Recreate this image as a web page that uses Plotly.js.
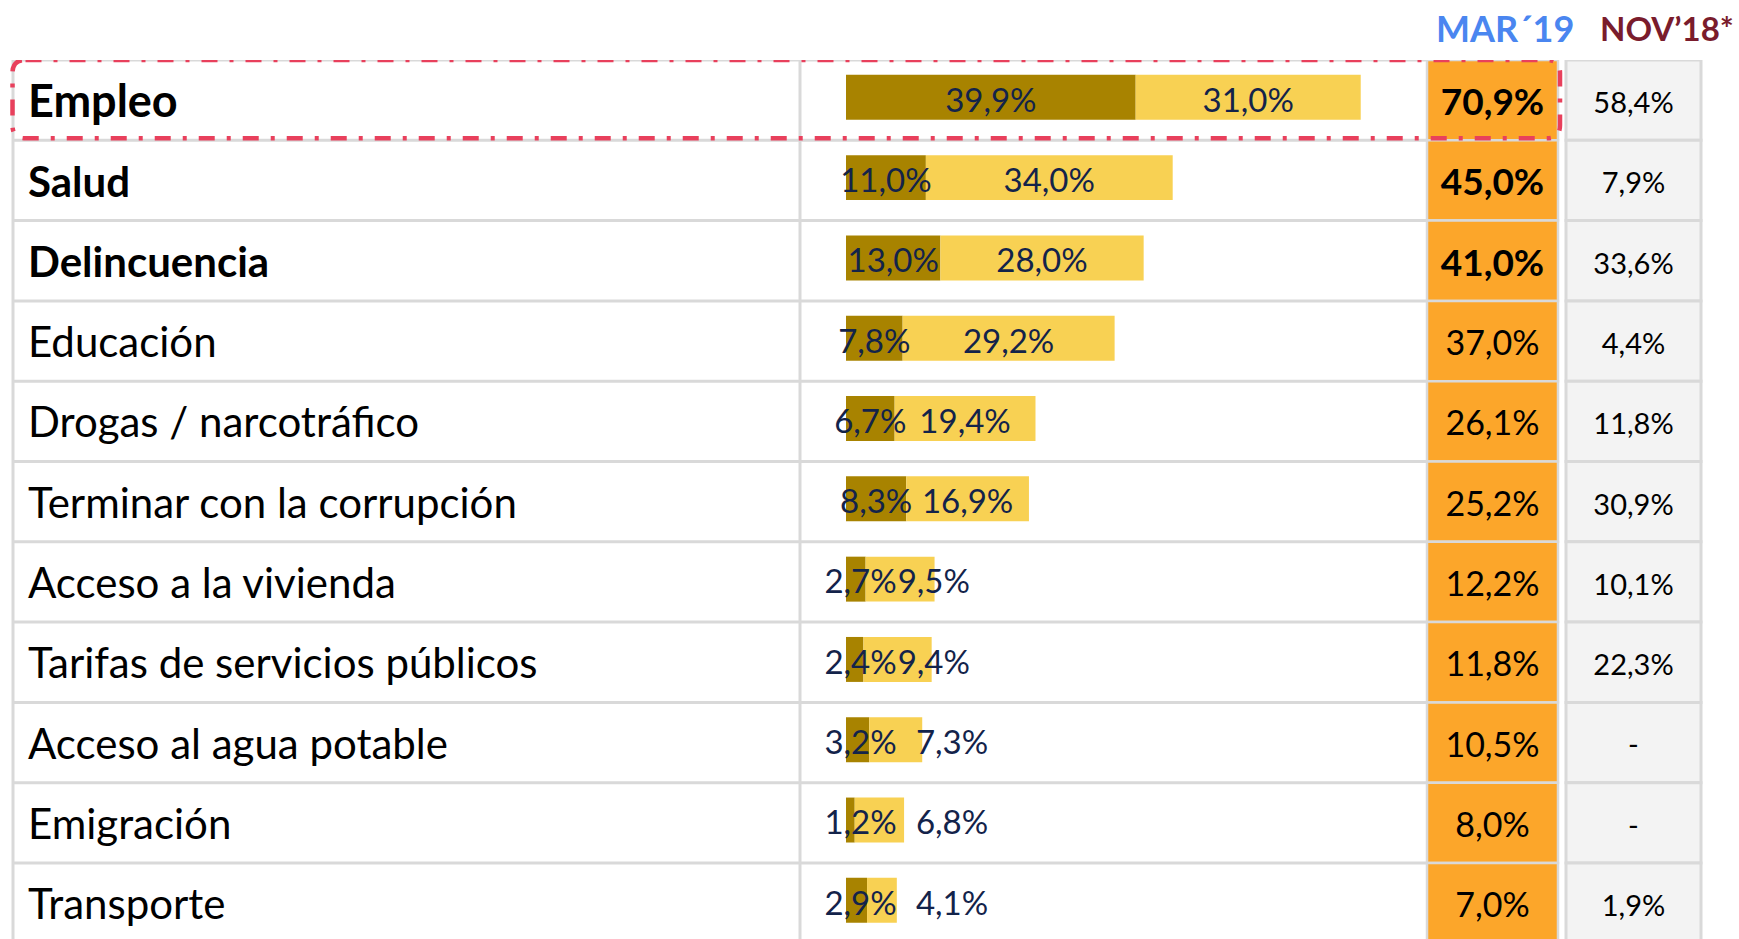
<!DOCTYPE html>
<html>
<head>
<meta charset="utf-8">
<script src="https://cdn.plot.ly/plotly-3.0.1.min.js"></script>
<style>
  html, body { margin: 0; padding: 0; background: #ffffff; }
  #chart { width: 1739px; height: 939px; }
</style>
</head>
<body>
<div id="chart"></div>
<script>
// ---------------- DATA ----------------
const categories = [
  'Empleo', 'Salud', 'Delincuencia', 'Educación', 'Drogas / narcotráfico',
  'Terminar con la corrupción', 'Acceso a la vivienda', 'Tarifas de servicios públicos',
  'Acceso al agua potable', 'Emigración', 'Transporte'
];
const firstMention = [39.9, 11.0, 13.0, 7.8, 6.7, 8.3, 2.7, 2.4, 3.2, 1.2, 2.9];
const otherMentions = [31.0, 34.0, 28.0, 29.2, 19.4, 16.9, 9.5, 9.4, 7.3, 6.8, 4.1];
const nov18 = [58.4, 7.9, 33.6, 4.4, 11.8, 30.9, 10.1, 22.3, null, null, 1.9];
const highlighted = ['Empleo', 'Salud', 'Delincuencia'];
const columnHeaders = ['MAR´19', 'NOV’18*'];

// ---------------- HELPERS ----------------
const W = 1739, H = 939;
const fmt = v => v.toFixed(1).replace('.', ',') + '%';
const idx = categories.map((c, i) => i);
const totals = categories.map((c, i) => firstMention[i] + otherMentions[i]);
const isBold = categories.map(c => highlighted.indexOf(c) >= 0);

// label placement (data units of the bar axis): centre of the segment,
// pushed right when segments are too narrow to hold the label.
const minDarkX = 2.0, labelW = 10.1, extraPad = 2.5;
const darkX = firstMention.map(v => Math.max(v / 2, minDarkX));
const lightX = otherMentions.map((v, i) => {
  const centre = firstMention[i] + v / 2;
  const pushed = darkX[i] + labelW + (v < 9 ? extraPad : 0);
  return Math.max(centre, pushed);
});

// geometry (pixels)
const tableTop = 60, rowH = 80.3;
const yDomTop = 1 - tableTop / H;
const rowsVisible = (H - tableTop) / rowH;
const yRange = [-0.5 + rowsVisible, -0.5];
const textShift = 0.07;   // texts sit slightly below the row centre
const px = x => x / W;

const colLeft = 13, colDiv = 800, colOrangeL = 1427, colOrangeR = 1558, colGrayL = 1566, colGrayR = 1701;
const barStartPx = 846, pxPerUnit = 7.26;
const xRange = [-barStartPx / pxPerUnit, (W - barStartPx) / pxPerUnit];

const FONT = 'Lato, "Open Sans", sans-serif';
const navy = '#13234a';
const gridC = '#d9d9d9';

// ---------------- TRACES ----------------
const barW = 0.56;
const traces = [
  {
    type: 'bar', orientation: 'h', x: firstMention, y: idx,
    marker: { color: '#a88300' }, width: barW, offset: -barW / 2 - 0.035,
    xaxis: 'x', yaxis: 'y', hoverinfo: 'skip'
  },
  {
    type: 'bar', orientation: 'h', x: otherMentions, y: idx, base: firstMention,
    marker: { color: '#f8d153' }, width: barW, offset: -barW / 2 - 0.035,
    xaxis: 'x', yaxis: 'y', hoverinfo: 'skip'
  },
  {
    type: 'scatter', mode: 'text', x: darkX, y: idx,
    text: firstMention.map(fmt), textposition: 'middle center',
    textfont: { family: FONT, size: 33, color: navy },
    xaxis: 'x', yaxis: 'y3', hoverinfo: 'skip'
  },
  {
    type: 'scatter', mode: 'text', x: lightX, y: idx,
    text: otherMentions.map(fmt), textposition: 'middle center',
    textfont: { family: FONT, size: 33, color: navy },
    xaxis: 'x', yaxis: 'y3', hoverinfo: 'skip'
  },
  {
    type: 'scatter', mode: 'text', x: idx.map(() => 28), y: idx,
    text: categories.map((c, i) => isBold[i] ? '<b>' + c + '</b>' : c),
    textposition: 'middle right',
    textfont: { family: FONT, size: idx.map(i => i === 0 ? 45 : 42), color: '#000000' },
    xaxis: 'x2', yaxis: 'y2', hoverinfo: 'skip'
  },
  {
    type: 'scatter', mode: 'text', x: idx.map(() => (colOrangeL + colOrangeR) / 2), y: idx,
    text: totals.map((t, i) => isBold[i] ? '<b>' + fmt(t) + '</b>' : fmt(t)),
    textposition: 'middle center',
    textfont: { family: FONT, size: isBold.map(b => b ? 37 : 34), color: '#000000' },
    xaxis: 'x2', yaxis: 'y2', hoverinfo: 'skip'
  },
  {
    type: 'scatter', mode: 'text', x: idx.map(() => (colGrayL + colGrayR) / 2), y: idx,
    text: nov18.map(v => v === null ? '-' : fmt(v)),
    textposition: 'middle center',
    textfont: { family: FONT, size: 29, color: '#000000' },
    xaxis: 'x2', yaxis: 'y2', hoverinfo: 'skip'
  }
];

// ---------------- SHAPES ----------------
const shapes = [];
const n = categories.length;
idx.forEach(i => {
  shapes.push({ type: 'rect', layer: 'below', xref: 'paper', yref: 'y',
    x0: px(colOrangeL), x1: px(colOrangeR), y0: i - 0.5, y1: i + 0.5,
    fillcolor: '#fca62a', line: { color: gridC, width: 2.5 } });
  shapes.push({ type: 'rect', layer: 'below', xref: 'paper', yref: 'y',
    x0: px(colGrayL), x1: px(colGrayR), y0: i - 0.5, y1: i + 0.5,
    fillcolor: '#f3f3f3', line: { color: gridC, width: 3 } });
});
for (let i = -1; i < n; i++) {
  shapes.push({ type: 'line', layer: 'below', xref: 'paper', yref: 'y',
    x0: px(colLeft), x1: px(colOrangeL), y0: i + 0.5, y1: i + 0.5,
    line: { color: gridC, width: 3 } });
}
[colLeft, colDiv].forEach(xp => {
  shapes.push({ type: 'line', layer: 'below', xref: 'paper', yref: 'y',
    x0: px(xp), x1: px(xp), y0: -0.5, y1: n + 0.5,
    line: { color: gridC, width: 3 } });
});
(function () {
  const x0 = px(12.5), x1 = px(1560), y0 = -0.5, y1 = 0.5 - 2 / rowH;
  const rx = px(13), ry = 13 / rowH;
  const p = `M ${x0 + rx},${y0} L ${x1 - rx},${y0} Q ${x1},${y0} ${x1},${y0 + ry} ` +
            `L ${x1},${y1 - ry} Q ${x1},${y1} ${x1 - rx},${y1} L ${x0 + rx},${y1} ` +
            `Q ${x0},${y1} ${x0},${y1 - ry} L ${x0},${y0 + ry} Q ${x0},${y0} ${x0 + rx},${y0} Z`;
  shapes.push({ type: 'path', layer: 'above', xref: 'paper', yref: 'y', path: p,
    line: { color: '#e8405c', width: 4.5, dash: '16px,12px,4px,12px' } });
})();

// ---------------- LAYOUT ----------------
const layout = {
  width: W, height: H,
  margin: { l: 0, r: 0, t: 0, b: 0, pad: 0 },
  paper_bgcolor: '#ffffff', plot_bgcolor: 'rgba(0,0,0,0)',
  showlegend: false, barmode: 'overlay',
  xaxis: { domain: [0, 1], range: xRange, visible: false, fixedrange: true },
  xaxis2: { domain: [0, 1], range: [0, W], overlaying: 'x', visible: false, fixedrange: true },
  yaxis: { domain: [0, yDomTop], range: yRange, visible: false, fixedrange: true },
  yaxis2: { domain: [0, yDomTop], range: [yRange[0] - textShift, yRange[1] - textShift],
            overlaying: 'y', visible: false, fixedrange: true },
  yaxis3: { domain: [0, yDomTop], range: [yRange[0] - 0.04, yRange[1] - 0.04],
            overlaying: 'y', visible: false, fixedrange: true },
  shapes: shapes,
  annotations: [
    { text: '<b>' + columnHeaders[0] + '</b>', xref: 'paper', yref: 'paper',
      x: px(1505), y: 1 - 28 / H, xanchor: 'center', yanchor: 'middle', showarrow: false,
      font: { family: FONT, size: 36, color: '#4a86f0' } },
    { text: '<b>' + columnHeaders[1] + '</b>', xref: 'paper', yref: 'paper',
      x: px(1667), y: 1 - 28 / H, xanchor: 'center', yanchor: 'middle', showarrow: false,
      font: { family: FONT, size: 33, color: '#7a1c2c' } }
  ]
};

Plotly.newPlot('chart', traces, layout, { displayModeBar: false, staticPlot: true });
</script>
</body>
</html>
